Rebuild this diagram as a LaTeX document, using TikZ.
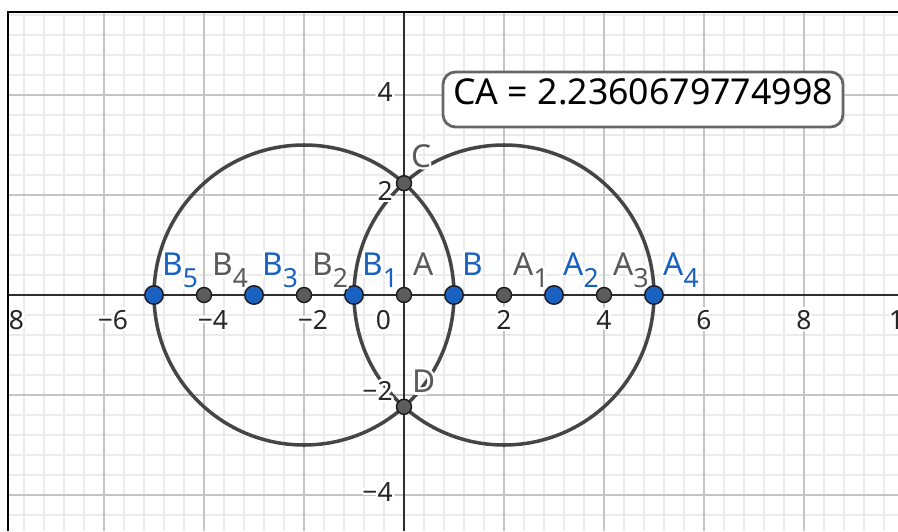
\documentclass[tikz,border=0pt]{standalone}
\usepackage{fontspec}
\setmainfont{Noto Sans}
\usepackage[copies]{contour}
\contourlength{1.4pt}
\definecolor{gridmajor}{HTML}{C4C4C4}
\definecolor{gridminor}{HTML}{EBEBEB}
\definecolor{axiscol}{HTML}{2E2E2E}
\definecolor{circcol}{HTML}{454545}
\definecolor{ptgray}{HTML}{5C5C5C}
\definecolor{ptedge}{HTML}{1A1A1A}
\definecolor{ggblue}{HTML}{1A62C2}
\definecolor{labgray}{HTML}{5A5A5A}
\definecolor{boxcol}{HTML}{666666}
\newcommand{\halo}[1]{\contour{white}{#1}}
\newcommand{\ptlab}[2]{\contour{white}{#1\raisebox{-6.8pt}{\fontsize{15}{15}\selectfont #2}}}
\begin{document}
\begin{tikzpicture}[x=1cm,y=1cm,
  majorgrid/.style={draw=gridmajor, line width=0.8pt},
  minorgrid/.style={draw=gridminor, line width=0.8pt},
  axisline/.style={draw=axiscol, line width=1pt},
  circ/.style={draw=circcol, line width=2pt},
  graypt/.style={circle, fill=ptgray, draw=ptedge, line width=0.8pt, minimum size=0.3cm, inner sep=0pt},
  bluept/.style={circle, fill=ggblue, draw=ptedge, line width=0.8pt, minimum size=0.37cm, inner sep=0pt},
  ticklab/.style={font=\fontsize{15}{17}\selectfont, text=black!85, inner sep=0pt},
  graylab/.style={font=\fontsize{18}{20}\selectfont, text=labgray, inner sep=0pt, anchor=base west},
  bluelab/.style={font=\fontsize{18}{20}\selectfont, text=ggblue, inner sep=0pt, anchor=base west},
]
\useasboundingbox (-8.08,-4.72) rectangle (9.88,5.9);
\begin{scope}
\clip (-7.92,-4.72) rectangle (9.88,5.66);
% minor grid
\foreach \i in {-20,...,25} \draw[minorgrid] ({\i*0.4},-4.72) -- ({\i*0.4},5.66);
\foreach \j in {-12,...,15} \draw[minorgrid] (-7.92,{\j*0.4}) -- (9.88,{\j*0.4});
% major grid
\foreach \x in {-8,-6,...,10} \draw[majorgrid] (\x,-4.72) -- (\x,5.66);
\foreach \y in {-4,-2,...,4} \draw[majorgrid] (-7.92,\y) -- (9.88,\y);
% axes
\draw[axisline] (-7.92,0) -- (9.88,0);
\draw[axisline] (0,-4.72) -- (0,5.66);
% circles
\draw[circ] (-2,0) circle (3);
\draw[circ] (2,0) circle (3);
% tick labels
\node[ticklab] (txm8) at (-7.9,-0.52) {\halo{−8}};
\node[ticklab] (txm6) at (-5.82,-0.52) {\halo{−6}};
\node[ticklab] (txm4) at (-3.82,-0.52) {\halo{−4}};
\node[ticklab] (txm2) at (-1.82,-0.52) {\halo{−2}};
\foreach \x in {2,4,6,8,10} \node[ticklab] (tx\x) at (\x,-0.52) {\halo{\x}};
\node[ticklab] (tx0) at (-0.41,-0.53) {\halo{0}};
\node[ticklab, anchor=east] (ty4) at (-0.22,4.04) {\halo{4}};
\node[ticklab, anchor=east] (ty2) at (-0.22,2.06) {\halo{2}};
\node[ticklab, anchor=east] (tym2) at (-0.22,-1.94) {\halo{−2}};
\node[ticklab, anchor=east] (tym4) at (-0.22,-3.96) {\halo{−4}};
% points
\node[bluept] (B5) at (-5,0) {};
\node[graypt] (B4) at (-4,0) {};
\node[bluept] (B3) at (-3,0) {};
\node[graypt] (B2) at (-2,0) {};
\node[bluept] (B1) at (-1,0) {};
\node[graypt] (A) at (0,0) {};
\node[bluept] (B) at (1,0) {};
\node[graypt] (A1) at (2,0) {};
\node[bluept] (A2) at (3,0) {};
\node[graypt] (A3) at (4,0) {};
\node[bluept] (A4) at (5,0) {};
\node[graypt] (C) at (0,2.236) {};
\node[graypt] (D) at (0,-2.236) {};
% point labels
\node[bluelab] (lB5) at (-4.84,0.39) {\ptlab{B}{5}};
\node[graylab] (lB4) at (-3.84,0.39) {\ptlab{B}{4}};
\node[bluelab] (lB3) at (-2.84,0.39) {\ptlab{B}{3}};
\node[graylab] (lB2) at (-1.84,0.39) {\ptlab{B}{2}};
\node[bluelab] (lB1) at (-0.84,0.39) {\ptlab{B}{1}};
\node[graylab] (lA) at (0.18,0.39) {\halo{A}};
\node[bluelab] (lB) at (1.16,0.39) {\halo{B}};
\node[graylab] (lA1) at (2.18,0.39) {\ptlab{A}{1}};
\node[bluelab] (lA2) at (3.18,0.39) {\ptlab{A}{2}};
\node[graylab] (lA3) at (4.18,0.39) {\ptlab{A}{3}};
\node[bluelab] (lA4) at (5.18,0.39) {\ptlab{A}{4}};
\node[graylab] (lC) at (0.14,2.556) {\halo{C}};
\node[graylab] (lD) at (0.16,-1.956) {\halo{D}};
% CA box
\node[draw=boxcol, line width=1.6pt, rounded corners=0.25cm, fill=white, minimum width=8cm, minimum height=1.1cm, inner sep=0pt] (cabox) at (4.78,3.91) {};
\node[font=\fontsize{20.3}{24}\selectfont, anchor=base west, inner sep=0pt] (catext) at (0.98,3.8) {CA = 2.2360679774998};
\end{scope}
% frame
\draw[black, line width=1.5pt] (-7.92,-4.72) -- (-7.92,5.66) -- (9.88,5.66);
\end{tikzpicture}
\end{document}
